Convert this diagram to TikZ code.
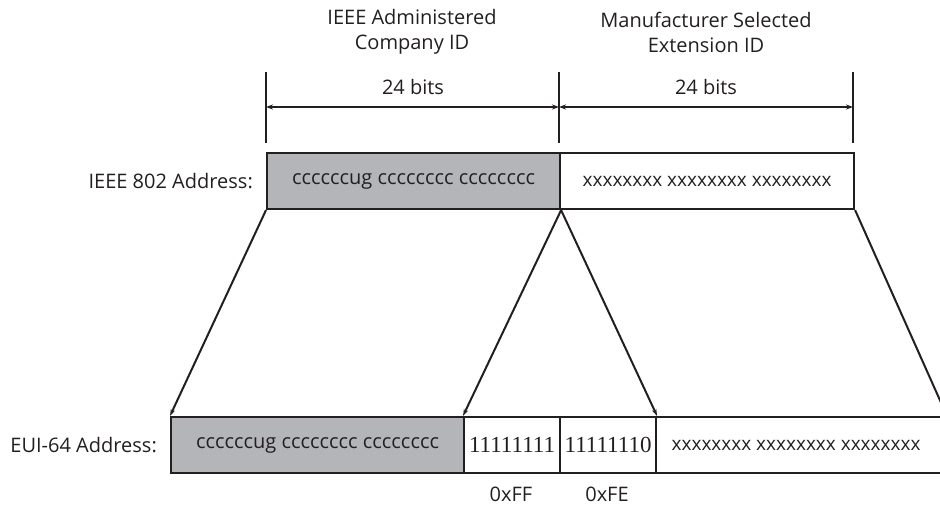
\documentclass[tikz,border=0pt]{standalone}
\usepackage{fontspec}
\setmainfont{Open Sans}
\newfontfamily\digitfont{Liberation Serif}
\usetikzlibrary{arrows.meta}
\definecolor{ink}{HTML}{231F20}
\definecolor{boxgray}{HTML}{B4B5B8}
\begin{document}
\begin{tikzpicture}[x=1pt,y=-1pt,
  field/.style={draw=ink,line width=2.1pt,minimum height=56pt,inner sep=0pt,anchor=north west,text=ink,font=\fontsize{20}{24}\selectfont},
  grayfield/.style={field,fill=boxgray},
  lbl/.style={font=\fontsize{20}{25}\selectfont,text=ink,inner sep=0pt},
  tick/.style={draw=ink,line width=1.6pt},
  dim/.style={draw=ink,line width=1.6pt,{Stealth[length=7pt,width=5pt]}-{Stealth[length=7pt,width=5pt]}},
  map/.style={draw=ink,line width=2pt,-{Stealth[length=7pt,width=4.5pt]}}]
\useasboundingbox (0,0) rectangle (940,507);
\clip (0,0) rectangle (940,507);
% header
\node[lbl,align=center] (h1) at (412,32) {IEEE Administered\\Company ID};
\node[lbl,align=center] (h2) at (706,32) {Manufacturer Selected\\Extension ID};
% ticks
\coordinate (t1a) at (266,72); \coordinate (t1b) at (266,143);
\coordinate (t2a) at (559,72); \coordinate (t2b) at (559,143);
\coordinate (t3a) at (853,72); \coordinate (t3b) at (853,143);
\draw[tick] (t1a) -- (t1b);
\draw[tick] (t2a) -- (t2b);
\draw[tick] (t3a) -- (t3b);
\coordinate (d1) at (266,107); \coordinate (d2) at (559,107); \coordinate (d3) at (853,107);
\draw[dim] (d1) -- (d2);
\draw[dim] (d2) -- (d3);
\node[lbl] (b1) at (413,87) {24 bits};
\node[lbl] (b2) at (706,87) {24 bits};
% top row
\node[lbl,anchor=east] (top) at (253,181) {IEEE 802 Address:};
\node[grayfield,minimum width=293pt] (tc) at (266,152) {\raisebox{-2pt}{ccccccug cccccccc cccccccc}};
\node[field,minimum width=294pt] (tx) at (559,152) {\fontsize{19}{23}\selectfont xxxxxxxx xxxxxxxx xxxxxxxx};
% bottom row
\node[lbl,anchor=east] (bot) at (157,445) {EUI-64 Address:};
\node[grayfield,minimum width=293pt] (bc) at (170,416) {\raisebox{-2pt}{ccccccug cccccccc cccccccc}};
\node[field,minimum width=96pt] (ff) at (463,416) {\digitfont\fontsize{23}{26}\selectfont 11111111};
\node[field,minimum width=96pt] (fe) at (559,416) {\digitfont\fontsize{23}{26}\selectfont 11111110};
\node[field,minimum width=300pt] (bx) at (655,416) {\fontsize{19}{23}\selectfont\hspace*{-20pt}xxxxxxxx xxxxxxxx xxxxxxxx};
\node[lbl] (lff) at (511,494) {0xFF};
\node[lbl] (lfe) at (607,494) {0xFE};
% mapping arrows
\coordinate (rend) at (947,416);
\draw[map] (tc.south west) -- (bc.north west);
\draw[map] (tc.south east) -- (ff.north west);
\draw[map] (tc.south east) -- (fe.north east);
\draw[map] (tx.south east) -- (rend);
\end{tikzpicture}
\end{document}
